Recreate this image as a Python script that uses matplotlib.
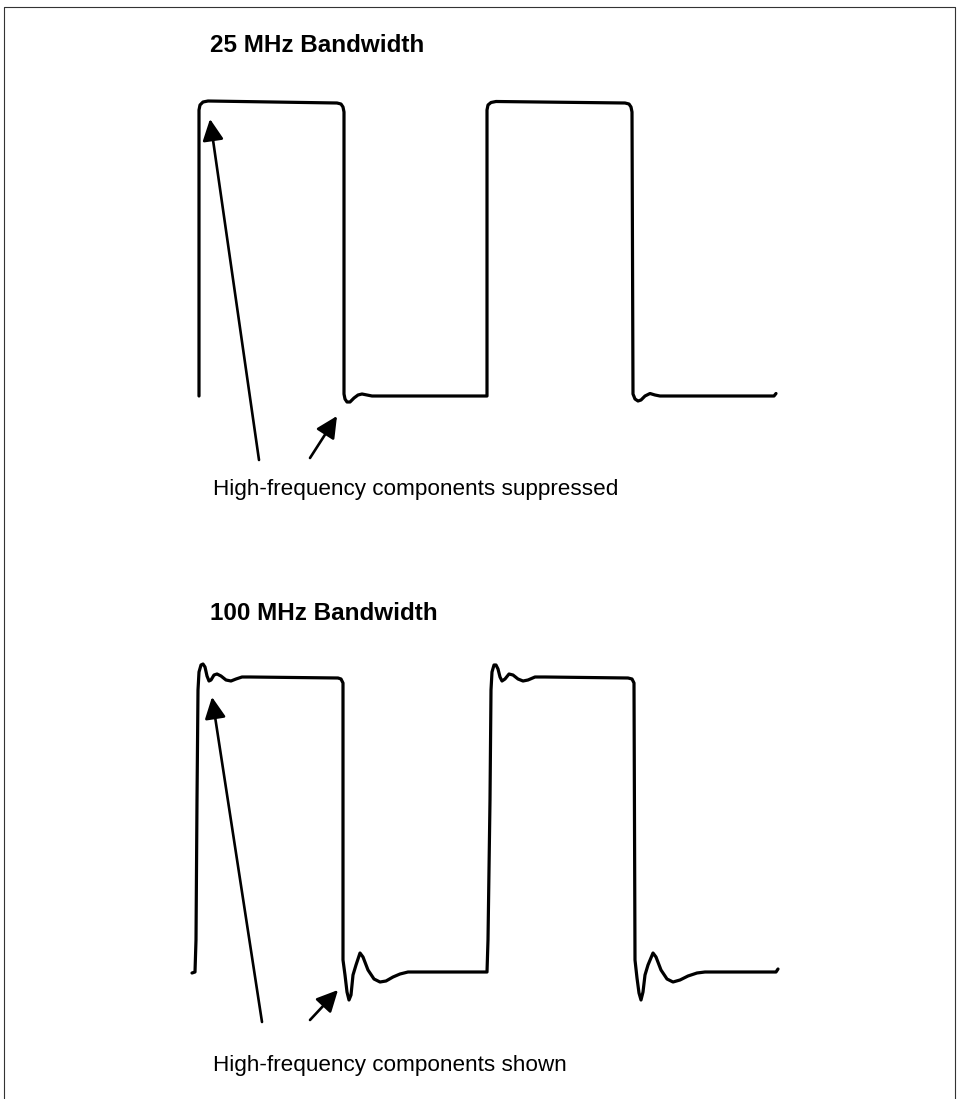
import matplotlib
matplotlib.use("Agg")
import matplotlib.pyplot as plt

# traced waveforms, in image pixels (x right, y down)
bw25_x = [199, 199, 200, 203, 208, 337, 341, 343, 344, 344, 345, 347, 350, 354, 358, 362, 367, 372,
          487, 487, 488, 491, 496, 625, 629, 631, 632, 633, 635, 638, 641, 645, 650, 655, 660, 774, 776]
bw25_y = [396, 110, 105, 102, 101, 103, 104, 107, 112, 394, 399, 402, 402, 398, 395, 394, 395, 396,
          396, 110, 105, 102.5, 101.5, 103, 104, 107, 112, 394, 399, 401, 400, 396, 393.5, 395, 396, 396, 393.5]

bw100_x = [192, 195, 196, 197, 198, 199, 201, 203, 205, 207, 209, 211, 214, 217, 221, 226, 231, 236, 242, 250,
           338, 341, 343, 343, 345, 347, 349, 351, 353, 356, 360, 363, 368, 374, 380, 386, 393, 400, 408,
           487, 488, 490, 491, 492, 494, 496, 498, 500, 502, 505, 509, 513, 518, 523, 528, 535, 545,
           628, 632, 634, 635, 637, 639, 641, 643, 645, 648, 653, 656, 661, 667, 673, 680, 688, 697, 705, 776, 778]
bw100_y = [973, 972, 940, 800, 690, 672, 665, 664, 667, 676, 681, 680, 675, 674, 676, 680, 681, 679, 677, 677,
           678, 679, 683, 960, 975, 992, 1000, 995, 975, 965, 953, 957, 970, 979, 982, 981, 977, 974, 972,
           972, 940, 800, 690, 672, 665, 665, 669, 677, 681, 679, 674, 675, 679, 681, 680, 677, 677,
           678, 679, 683, 960, 978, 993, 1000, 992, 975, 965, 953, 957, 970, 979, 982, 980, 976, 973, 972, 972, 969]

titles = ["25 MHz Bandwidth", "100 MHz Bandwidth"]
title_y = [45, 613]
notes = ["High-frequency components suppressed", "High-frequency components shown"]
note_y = [490, 1065]

# arrows: (tail, tip)
arrows = [((259, 460), (210, 119)), ((310, 458), (337, 416)),
          ((262, 1022), (212, 697)), ((310, 1020), (338, 990))]

fig = plt.figure(figsize=(9.59, 10.99), dpi=100)
ax = fig.add_axes([0, 0, 1, 1])
ax.set_xlim(0, 959)
ax.set_ylim(1099, 0)
ax.axis("off")

# frame
ax.plot([4, 4, 955, 955], [1099, 7, 7, 1099], color="#333333", lw=0.8)

for xs, ys in [(bw25_x, bw25_y), (bw100_x, bw100_y)]:
    ax.plot(xs, ys, color="black", lw=2.3, solid_joinstyle="round", solid_capstyle="round")

for t, y in zip(titles, title_y):
    ax.text(210, y, t, fontsize=17.5, fontweight="bold", family="Liberation Sans", va="center", ha="left")

for t, y in zip(notes, note_y):
    ax.text(213, y, t, fontsize=16.2, family="Liberation Sans", va="center", ha="left")

for tail, tip in arrows:
    ax.annotate("", xy=tip, xytext=tail,
                arrowprops=dict(arrowstyle="-|>,head_length=0.65,head_width=0.32", lw=1.9,
                                color="black", shrinkA=0, shrinkB=0, mutation_scale=20))

fig.savefig("out.png", dpi=100)
